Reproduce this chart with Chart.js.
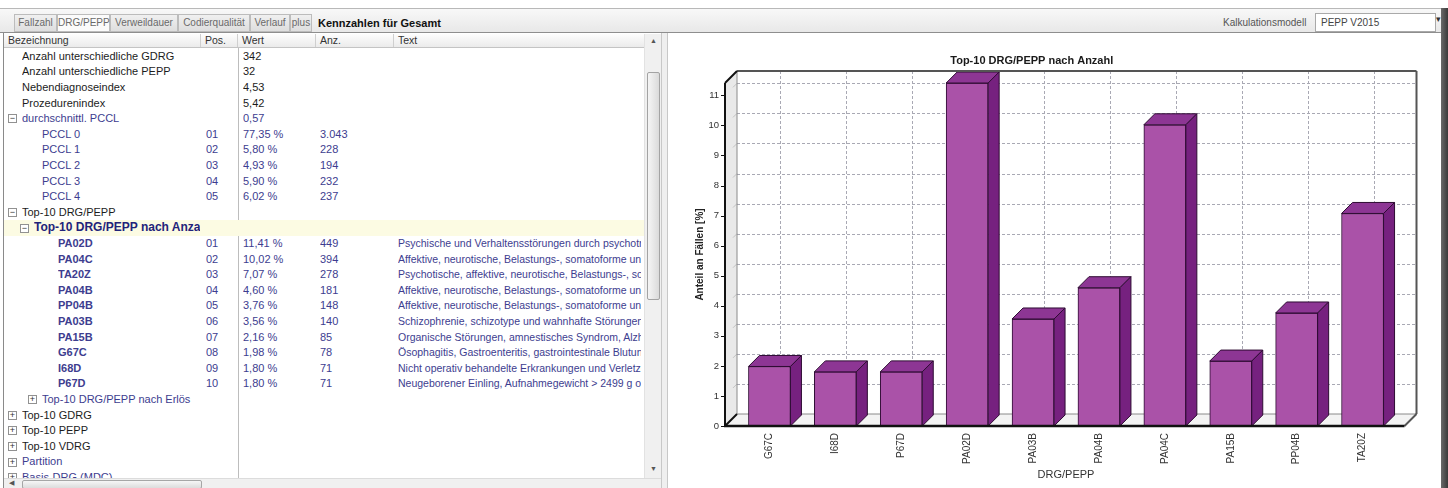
<!DOCTYPE html>
<html>
<head>
<meta charset="utf-8">
<title>Kennzahlen für Gesamt</title>
<script src="https://cdn.jsdelivr.net/npm/chart.js@4/dist/chart.umd.min.js"></script>
<style>
  * { margin: 0; padding: 0; box-sizing: border-box; }
  body {
    width: 1448px; height: 488px; overflow: hidden; position: relative;
    background: #fff; color: #222;
    font-family: "Liberation Sans", Arial, sans-serif; font-size: 11px;
  }
  .tabbar {
    position: absolute; left: 0; top: 8px; width: 1448px; height: 25px;
    background: linear-gradient(#f8f8f8, #e8e8e8);
    border-top: 1px solid #b8b8b8; border-bottom: 1px solid #8e8e8e;
  }
  .tab {
    position: absolute; top: 5px; height: 18px; line-height: 16px;
    font-size: 10px; color: #6a6a6a; text-align: center; white-space: nowrap;
    border: 1px solid #bcbcbc; background: linear-gradient(#f0f0f0, #dedede);
  }
  .tab.active { background: #fbfbfb; }
  .tabtitle { position: absolute; left: 318px; top: 5px; line-height: 18px; font-weight: bold; color: #111; }
  .kalk { position: absolute; left: 1223px; top: 5px; line-height: 18px; font-size: 10px; color: #555; }
  .combo {
    position: absolute; left: 1315px; top: 4px; width: 121px; height: 19px;
    background: #fff; border: 1px solid #a9a9a9; font-size: 10px; color: #444;
    line-height: 17px; padding-left: 5px;
  }
  .combo-arrow { position: absolute; left: 1436px; top: 5px; font-size: 9px; color: #333; }
  .edge { position: absolute; left: 1441px; top: 8px; width: 7px; height: 480px; background: linear-gradient(to right, #6a6a6a, #3a3a3a); }

  .left { position: absolute; left: 3px; top: 33px; width: 658px; height: 455px; border-left: 1px solid #8a8a8a; overflow: hidden; }
  .head {
    position: absolute; left: 0; top: 1px; width: 640px; height: 14px;
    background: linear-gradient(#fdfdfd, #ebebeb); border-bottom: 1px solid #c4c4c4;
  }
  .hc { position: absolute; top: 0; height: 13px; line-height: 13px; font-size: 10.5px; color: #333; padding-left: 4px; border-right: 1px solid #cfcfcf; }
  .row { position: absolute; left: 0; width: 640px; white-space: nowrap; }
  .row.hl { background: #fcfbe3; }
  .cell { position: absolute; top: 0; overflow: hidden; }
  .toggle {
    position: absolute; width: 9px; height: 9px; border: 1px solid #919191; background: #fff;
    font-size: 9px; line-height: 7px; text-align: center; color: #333; font-weight: normal;
  }
  .splitcol { position: absolute; left: 234px; top: 15px; width: 1px; height: 430px; background: #bdbdbd; }
  .vscroll { position: absolute; left: 640px; top: 1px; width: 17px; height: 444px; background: #f0f0f0; border-left: 1px solid #e2e2e2; }
  .vthumb {
    position: absolute; left: 2px; top: 38px; width: 13px; height: 228px;
    background: linear-gradient(to right, #f5f5f5, #dadada); border: 1px solid #a3a3a3; border-radius: 2px;
  }
  .arrow { position: absolute; font-size: 7px; color: #555; }
  .hscroll { position: absolute; left: 0; top: 445px; width: 657px; height: 10px; background: #f0f0f0; border-top: 1px solid #dcdcdc; }
  .hthumb { position: absolute; left: 18px; top: 1px; width: 180px; height: 9px; background: linear-gradient(#f6f6f6, #dcdcdc); border: 1px solid #a6a6a6; border-radius: 2px; }
  .splitter { position: absolute; left: 661px; top: 33px; width: 7px; height: 455px; background: #efefef; border-left: 1px solid #c8c8c8; border-right: 1px solid #c8c8c8; }
  #chart { position: absolute; left: 668px; top: 33px; }
</style>
</head>
<body>
<div class="tabbar">
  <div class="tab" style="left:14px;width:43px">Fallzahl</div>
  <div class="tab active" style="left:57px;width:53px">DRG/PEPP</div>
  <div class="tab" style="left:110px;width:68px">Verweildauer</div>
  <div class="tab" style="left:178px;width:72px">Codierqualität</div>
  <div class="tab" style="left:250px;width:40px">Verlauf</div>
  <div class="tab" style="left:290px;width:22px">plus</div>
  <div class="tabtitle">Kennzahlen für Gesamt</div>
  <div class="kalk">Kalkulationsmodell</div>
  <div class="combo">PEPP V2015</div>
  <div class="combo-arrow">&#9662;</div>
</div>
<div class="edge"></div>

<div class="left" id="left">
  <div class="head">
    <div class="hc" style="left:0;width:197px">Bezeichnung</div>
    <div class="hc" style="left:197px;width:37px">Pos.</div>
    <div class="hc" style="left:234px;width:78px">Wert</div>
    <div class="hc" style="left:312px;width:78px">Anz.</div>
    <div class="hc" style="left:390px;width:250px;border-right:none">Text</div>
  </div>
  <div class="splitcol"></div>
  <div class="vscroll">
    <div class="arrow" style="left:5px;top:3px">&#9650;</div>
    <div class="vthumb"></div>
    <div class="arrow" style="left:5px;top:431px">&#9660;</div>
  </div>
  <div class="hscroll">
    <div class="arrow" style="left:5px;top:0">&#9664;</div>
    <div class="hthumb"></div>
  </div>
</div>
<div class="splitter"></div>

<canvas id="chart" width="772" height="455"></canvas>

<script>
  // Chart data (alphabetical order as in the chart)
  const codes = ['G67C', 'I68D', 'P67D', 'PA02D', 'PA03B', 'PA04B', 'PA04C', 'PA15B', 'PP04B', 'TA20Z'];
  const shares = [1.98, 1.80, 1.80, 11.41, 3.56, 4.60, 10.02, 2.16, 3.76, 7.07];

  // Table data
  const kennzahlNames = ['Anzahl unterschiedliche GDRG', 'Anzahl unterschiedliche PEPP', 'Nebendiagnoseindex', 'Prozedurenindex'];
  const kennzahlValues = ['342', '32', '4,53', '5,42'];
  const pcclNames = ['PCCL 0', 'PCCL 1', 'PCCL 2', 'PCCL 3', 'PCCL 4'];
  const pcclShares = ['77,35 %', '5,80 %', '4,93 %', '5,90 %', '6,02 %'];
  const pcclCounts = ['3.043', '228', '194', '232', '237'];
  const topCodes = ['PA02D', 'PA04C', 'TA20Z', 'PA04B', 'PP04B', 'PA03B', 'PA15B', 'G67C', 'I68D', 'P67D'];
  const topShares = ['11,41 %', '10,02 %', '7,07 %', '4,60 %', '3,76 %', '3,56 %', '2,16 %', '1,98 %', '1,80 %', '1,80 %'];
  const topCounts = ['449', '394', '278', '181', '148', '140', '85', '78', '71', '71'];
  const topTexts = [
    'Psychische und Verhaltensstörungen durch psychotrope Substanzen',
    'Affektive, neurotische, Belastungs-, somatoforme und Schlafstörungen',
    'Psychotische, affektive, neurotische, Belastungs-, somatoforme Störungen',
    'Affektive, neurotische, Belastungs-, somatoforme und Schlafstörungen',
    'Affektive, neurotische, Belastungs-, somatoforme und Schlafstörungen',
    'Schizophrenie, schizotype und wahnhafte Störungen',
    'Organische Störungen, amnestisches Syndrom, Alzheimer-Krankheit',
    'Ösophagitis, Gastroenteritis, gastrointestinale Blutung',
    'Nicht operativ behandelte Erkrankungen und Verletzungen der Wirbelsäule',
    'Neugeborener Einling, Aufnahmegewicht > 2499 g ohne signifikante OR-Prozedur'
  ];

  // ---- table ----
  const left = document.getElementById('left');
  const ROW0 = 8, ROWH = 15.6;
  const BLUE = '#3d3d8f', NAVY = '#23237a', BLACK = '#1c1c1c';
  let rowIndex = 0;

  function addRow(o) {
    rowIndex++;
    const row = document.createElement('div');
    row.className = 'row' + (o.hl ? ' hl' : '');
    row.style.top = (ROW0 + rowIndex * ROWH - ROWH / 2) + 'px';
    row.style.height = ROWH + 'px';
    row.style.lineHeight = ROWH + 'px';
    row.style.color = o.color || BLACK;
    if (o.size) row.style.fontSize = o.size + 'px';
    if (o.toggle) {
      const t = document.createElement('div');
      t.className = 'toggle';
      t.style.left = (o.indent - 14) + 'px';
      t.style.top = (ROWH / 2 - 4.5) + 'px';
      t.textContent = o.toggle;
      row.appendChild(t);
    }
    const cells = [
      [o.indent, 196 - o.indent, o.name, o.bold],
      [202, 30, o.pos],
      [239, 72, o.wert],
      [316, 72, o.anz],
      [394, 243, o.text]
    ];
    cells.forEach(([x, w, txt, bold]) => {
      if (!txt) return;
      const c = document.createElement('div');
      c.className = 'cell';
      c.style.left = x + 'px';
      c.style.width = w + 'px';
      c.textContent = txt;
      if (bold) c.style.fontWeight = 'bold';
      if (x === 394) c.style.fontSize = '10.5px';
      row.appendChild(c);
    });
    left.insertBefore(row, left.querySelector('.vscroll'));
  }

  kennzahlNames.forEach((n, i) => addRow({ indent: 18, name: n, wert: kennzahlValues[i] }));
  addRow({ indent: 18, toggle: '\u2212', name: 'durchschnittl. PCCL', wert: '0,57', color: BLUE });
  pcclNames.forEach((n, i) => addRow({ indent: 38, name: n, pos: '0' + (i + 1), wert: pcclShares[i], anz: pcclCounts[i], color: BLUE }));
  addRow({ indent: 18, toggle: '\u2212', name: 'Top-10 DRG/PEPP' });
  addRow({ indent: 30, toggle: '\u2212', name: 'Top-10 DRG/PEPP nach Anzahl', color: NAVY, bold: true, hl: true, size: 12 });
  topCodes.forEach((c, i) => addRow({
    indent: 54, name: c, pos: String(i + 1).padStart(2, '0'), wert: topShares[i], anz: topCounts[i],
    text: topTexts[i], color: BLUE, bold: true
  }));
  addRow({ indent: 38, toggle: '+', name: 'Top-10 DRG/PEPP nach Erlös', color: BLUE });
  addRow({ indent: 18, toggle: '+', name: 'Top-10 GDRG' });
  addRow({ indent: 18, toggle: '+', name: 'Top-10 PEPP' });
  addRow({ indent: 18, toggle: '+', name: 'Top-10 VDRG' });
  addRow({ indent: 18, toggle: '+', name: 'Partition', color: BLUE });
  addRow({ indent: 18, toggle: '+', name: 'Basis-DRG (MDC)', color: BLUE });

  // ---- chart ----
  const FONT = '"Liberation Sans", Arial, sans-serif';
  const WALL = 12;   // depth of the box
  const BAR = 11;    // depth of the bars

  function seg(ctx, x1, y1, x2, y2) {
    ctx.beginPath(); ctx.moveTo(x1, y1); ctx.lineTo(x2, y2); ctx.stroke();
  }

  const box3d = {
    id: 'box3d',
    beforeDatasetsDraw(chart) {
      const { ctx, chartArea: a, scales: { x, y } } = chart;
      const L = a.left - 11.5, R = a.right + 9;
      const B = y.getPixelForValue(0), T = y.getPixelForValue(y.max);
      ctx.save();
      // left wall and floor
      ctx.fillStyle = '#e9e9e9';
      ctx.beginPath();
      ctx.moveTo(L, B); ctx.lineTo(L, T); ctx.lineTo(L + WALL, T - WALL); ctx.lineTo(L + WALL, B - WALL);
      ctx.closePath(); ctx.fill();
      ctx.fillStyle = '#f3f3f3';
      ctx.beginPath();
      ctx.moveTo(L, B); ctx.lineTo(L + WALL, B - WALL); ctx.lineTo(R + WALL, B - WALL); ctx.lineTo(R, B);
      ctx.closePath(); ctx.fill();
      // dashed grid on back wall
      ctx.strokeStyle = '#a9a9b4'; ctx.lineWidth = 1; ctx.setLineDash([3, 2]);
      y.ticks.forEach(t => {
        if (t.value === 0) return;
        const py = Math.round(y.getPixelForValue(t.value) - WALL) + 0.5;
        seg(ctx, L + WALL, py, R + WALL, py);
      });
      x.ticks.forEach((t, i) => {
        const px = Math.round(x.getPixelForTick(i) + BAR) + 0.5;
        seg(ctx, px, T - WALL, px, B - WALL);
      });
      ctx.setLineDash([]);
      // marks on left wall
      ctx.strokeStyle = '#c4c4c4';
      y.ticks.forEach(t => {
        const py = y.getPixelForValue(t.value);
        seg(ctx, L + WALL - 4, py - WALL + 4, L + WALL, py - WALL);
      });
      // back edges
      ctx.strokeStyle = '#8a8a8a';
      seg(ctx, L + WALL, T - WALL, L + WALL, B - WALL);
      seg(ctx, L + WALL, B - WALL, R + WALL, B - WALL);
      ctx.restore();
    },
    afterDatasetsDraw(chart) {
      const { ctx, chartArea: a, scales: { y } } = chart;
      const L = a.left - 11.5, R = a.right + 9;
      const B = y.getPixelForValue(0), T = y.getPixelForValue(y.max);
      ctx.save();
      ctx.lineWidth = 1; ctx.strokeStyle = '#2e0c33';
      chart.getDatasetMeta(0).data.forEach(bar => {
        const p = bar.getProps(['x', 'y', 'base', 'width'], true);
        const l = p.x - p.width / 2, r = p.x + p.width / 2, top = p.y, base = p.base;
        ctx.fillStyle = '#8d3694';
        ctx.beginPath();
        ctx.moveTo(l, top); ctx.lineTo(l + BAR, top - BAR); ctx.lineTo(r + BAR, top - BAR); ctx.lineTo(r, top);
        ctx.closePath(); ctx.fill(); ctx.stroke();
        ctx.fillStyle = '#76217f';
        ctx.beginPath();
        ctx.moveTo(r, top); ctx.lineTo(r + BAR, top - BAR); ctx.lineTo(r + BAR, base - BAR); ctx.lineTo(r, base);
        ctx.closePath(); ctx.fill(); ctx.stroke();
      });
      // outer frame
      ctx.strokeStyle = '#555'; ctx.lineWidth = 2;
      seg(ctx, L + WALL, T - WALL, R + WALL, T - WALL);
      seg(ctx, R + WALL, T - WALL, R + WALL, B - WALL);
      seg(ctx, R + WALL, B - WALL, R, B);
      ctx.strokeStyle = '#111';
      seg(ctx, L, T, L + WALL, T - WALL);
      seg(ctx, L, B + 1, L, T);
      seg(ctx, L, B, L + WALL, B - WALL);
      ctx.lineWidth = 2.5;
      seg(ctx, L - 1, B, R, B);
      // tick marks on front axis
      ctx.lineWidth = 1;
      y.ticks.forEach(t => {
        const py = Math.round(y.getPixelForValue(t.value)) + 0.5;
        seg(ctx, L - 4, py, L, py);
      });
      ctx.restore();
    }
  };

  new Chart(document.getElementById('chart'), {
    type: 'bar',
    data: {
      labels: codes,
      datasets: [{
        data: shares,
        backgroundColor: '#aa52a8',
        borderColor: '#2e0c33',
        borderWidth: 1,
        borderSkipped: false,
        barThickness: 42
      }]
    },
    options: {
      responsive: false,
      animation: false,
      devicePixelRatio: 1,
      layout: { padding: { left: 0, right: 44.5, top: 0, bottom: 0 } },
      plugins: {
        legend: { display: false },
        tooltip: { enabled: false },
        title: {
          display: true,
          text: 'Top-10 DRG/PEPP nach Anzahl',
          color: '#1a1a1a',
          font: { family: FONT, size: 11, weight: 'bold' },
          padding: { top: 21.4, bottom: 15.4 }
        }
      },
      scales: {
        x: {
          grid: { display: false, drawTicks: false },
          border: { display: false },
          ticks: {
            autoSkip: false, minRotation: 90, maxRotation: 90, padding: 7,
            color: '#333', font: { family: FONT, size: 10 }
          },
          title: {
            display: true, text: 'DRG/PEPP', color: '#333',
            font: { family: FONT, size: 11 }, padding: { top: 0, bottom: 6 }
          },
          afterFit(scale) { scale.height = 62; }
        },
        y: {
          min: 0,
          max: Math.max(...shares),
          grid: { display: false, drawTicks: false },
          border: { display: false },
          ticks: {
            stepSize: 1, includeBounds: false, padding: 17.5,
            color: '#333', font: { family: FONT, size: 9.5 }
          },
          title: {
            display: true, text: 'Anteil an Fällen [%]', color: '#222',
            font: { family: FONT, size: 10, weight: 'bold' }, padding: { top: 26, bottom: 0 }
          },
          afterFit(scale) { scale.width = 68.5; }
        }
      }
    },
    plugins: [box3d]
  });
</script>
</body>
</html>
